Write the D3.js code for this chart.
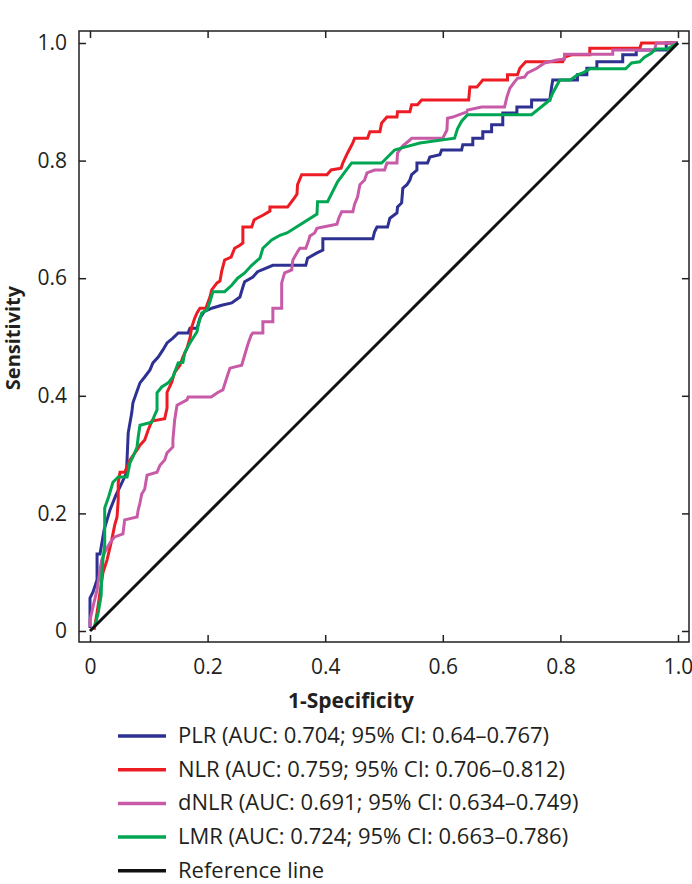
<!DOCTYPE html>
<html>
<head>
<meta charset="utf-8">
<script src="https://d3js.org/d3.v7.min.js"></script>
<style>
  body { margin: 0; background: #fff; }
  svg text { font-family: "Open Sans", "Noto Sans", sans-serif; fill: #231f20; }
  .tick line { stroke: #231f20; stroke-width: 1.5; }
</style>
</head>
<body>
<script>
// ROC points: [1-specificity, sensitivity]
var plr = [[0,0.005],[0,0.056],[0.005,0.066],[0.012,0.087],[0.012,0.131],[0.017,0.131],[0.024,0.172],[0.034,0.206],[0.044,0.231],[0.051,0.245],[0.062,0.269],[0.065,0.337],[0.071,0.371],[0.073,0.388],[0.079,0.405],[0.085,0.422],[0.093,0.432],[0.102,0.444],[0.107,0.456],[0.116,0.466],[0.124,0.478],[0.131,0.490],[0.141,0.498],[0.150,0.507],[0.167,0.507],[0.170,0.515],[0.182,0.515],[0.187,0.532],[0.194,0.543],[0.207,0.549],[0.224,0.554],[0.241,0.558],[0.255,0.568],[0.260,0.585],[0.263,0.594],[0.277,0.602],[0.285,0.611],[0.311,0.622],[0.367,0.622],[0.370,0.634],[0.386,0.643],[0.396,0.648],[0.396,0.667],[0.481,0.667],[0.484,0.679],[0.488,0.687],[0.506,0.687],[0.510,0.702],[0.522,0.711],[0.523,0.721],[0.530,0.728],[0.532,0.753],[0.539,0.759],[0.544,0.767],[0.547,0.776],[0.556,0.784],[0.556,0.796],[0.574,0.796],[0.578,0.806],[0.595,0.810],[0.598,0.818],[0.632,0.818],[0.634,0.827],[0.651,0.827],[0.651,0.838],[0.668,0.838],[0.668,0.849],[0.683,0.849],[0.683,0.861],[0.702,0.861],[0.702,0.881],[0.726,0.881],[0.726,0.891],[0.751,0.891],[0.751,0.903],[0.782,0.903],[0.785,0.925],[0.787,0.937],[0.829,0.937],[0.829,0.946],[0.845,0.946],[0.845,0.957],[0.862,0.957],[0.862,0.968],[0.906,0.968],[0.906,0.980],[0.929,0.980],[0.929,0.988],[0.980,0.988],[0.980,1],[1,1]];

var nlr = [[0.007,0.002],[0.012,0.031],[0.017,0.065],[0.022,0.099],[0.029,0.121],[0.037,0.155],[0.042,0.180],[0.046,0.194],[0.048,0.223],[0.048,0.252],[0.051,0.270],[0.059,0.270],[0.063,0.279],[0.068,0.291],[0.080,0.308],[0.085,0.316],[0.093,0.325],[0.099,0.342],[0.105,0.357],[0.127,0.361],[0.131,0.379],[0.131,0.406],[0.139,0.423],[0.144,0.440],[0.153,0.452],[0.158,0.466],[0.165,0.481],[0.170,0.498],[0.173,0.517],[0.178,0.532],[0.182,0.541],[0.187,0.549],[0.197,0.549],[0.204,0.568],[0.207,0.580],[0.216,0.592],[0.221,0.595],[0.224,0.612],[0.229,0.631],[0.240,0.636],[0.246,0.651],[0.255,0.656],[0.260,0.660],[0.260,0.687],[0.275,0.687],[0.279,0.699],[0.284,0.702],[0.294,0.707],[0.306,0.714],[0.306,0.721],[0.336,0.721],[0.345,0.733],[0.352,0.743],[0.353,0.759],[0.360,0.776],[0.403,0.776],[0.410,0.784],[0.427,0.787],[0.430,0.796],[0.438,0.813],[0.447,0.830],[0.450,0.838],[0.472,0.838],[0.476,0.849],[0.493,0.849],[0.496,0.864],[0.505,0.874],[0.522,0.874],[0.523,0.883],[0.544,0.883],[0.547,0.895],[0.557,0.895],[0.564,0.903],[0.644,0.903],[0.646,0.925],[0.658,0.925],[0.668,0.937],[0.710,0.937],[0.710,0.946],[0.727,0.946],[0.731,0.957],[0.741,0.968],[0.804,0.968],[0.807,0.976],[0.819,0.980],[0.850,0.980],[0.850,0.991],[0.935,0.991],[0.938,1],[1,1]];

var dnlr = [[0,0.007],[0,0.019],[0.005,0.041],[0.012,0.070],[0.017,0.104],[0.020,0.121],[0.025,0.134],[0.034,0.150],[0.042,0.160],[0.056,0.165],[0.059,0.189],[0.080,0.194],[0.082,0.206],[0.085,0.218],[0.088,0.233],[0.093,0.241],[0.097,0.265],[0.114,0.270],[0.119,0.282],[0.127,0.291],[0.131,0.303],[0.141,0.313],[0.141,0.325],[0.144,0.359],[0.148,0.384],[0.165,0.393],[0.167,0.398],[0.206,0.398],[0.218,0.406],[0.226,0.410],[0.233,0.432],[0.238,0.447],[0.258,0.452],[0.263,0.469],[0.268,0.486],[0.274,0.503],[0.277,0.507],[0.294,0.507],[0.294,0.526],[0.311,0.526],[0.311,0.549],[0.326,0.549],[0.326,0.592],[0.331,0.609],[0.343,0.614],[0.345,0.631],[0.353,0.645],[0.357,0.651],[0.367,0.651],[0.372,0.665],[0.374,0.672],[0.382,0.677],[0.386,0.685],[0.396,0.687],[0.420,0.692],[0.423,0.702],[0.428,0.713],[0.447,0.713],[0.450,0.726],[0.455,0.738],[0.459,0.759],[0.467,0.767],[0.471,0.779],[0.484,0.784],[0.501,0.784],[0.505,0.796],[0.522,0.796],[0.523,0.813],[0.532,0.825],[0.544,0.835],[0.547,0.838],[0.600,0.838],[0.607,0.852],[0.608,0.872],[0.617,0.874],[0.641,0.883],[0.642,0.886],[0.666,0.891],[0.705,0.891],[0.709,0.908],[0.714,0.923],[0.722,0.934],[0.727,0.940],[0.739,0.942],[0.744,0.949],[0.760,0.957],[0.773,0.966],[0.794,0.971],[0.807,0.973],[0.807,0.981],[0.889,0.981],[0.889,0.988],[0.960,0.988],[0.963,1],[1,1]];

var lmr = [[0.008,0.007],[0.014,0.031],[0.019,0.061],[0.020,0.095],[0.022,0.121],[0.025,0.146],[0.025,0.209],[0.031,0.226],[0.034,0.236],[0.039,0.253],[0.048,0.262],[0.063,0.262],[0.068,0.286],[0.073,0.296],[0.080,0.313],[0.082,0.330],[0.085,0.350],[0.105,0.355],[0.110,0.367],[0.114,0.376],[0.114,0.405],[0.122,0.415],[0.133,0.422],[0.141,0.432],[0.150,0.456],[0.158,0.457],[0.161,0.473],[0.170,0.490],[0.175,0.498],[0.182,0.509],[0.184,0.520],[0.190,0.541],[0.199,0.546],[0.204,0.560],[0.209,0.577],[0.229,0.577],[0.241,0.588],[0.251,0.600],[0.263,0.609],[0.275,0.622],[0.289,0.634],[0.294,0.651],[0.309,0.665],[0.323,0.673],[0.335,0.677],[0.386,0.709],[0.387,0.730],[0.404,0.730],[0.421,0.764],[0.445,0.796],[0.496,0.796],[0.518,0.818],[0.535,0.823],[0.561,0.830],[0.620,0.838],[0.625,0.854],[0.632,0.867],[0.642,0.878],[0.751,0.878],[0.782,0.903],[0.787,0.915],[0.799,0.937],[0.817,0.937],[0.829,0.946],[0.838,0.949],[0.850,0.956],[0.911,0.956],[0.921,0.966],[0.935,0.968],[0.943,0.976],[0.955,0.983],[0.962,0.990],[0.982,0.990],[1,1]];

var refLine = [[0,0],[1,1]];

var seriesNames = ["PLR", "NLR", "dNLR", "LMR", "Reference line"];
var legendLabels = [
  "PLR (AUC: 0.704; 95% CI: 0.64\u20130.767)",
  "NLR (AUC: 0.759; 95% CI: 0.706\u20130.812)",
  "dNLR (AUC: 0.691; 95% CI: 0.634\u20130.749)",
  "LMR (AUC: 0.724; 95% CI: 0.663\u20130.786)",
  "Reference line"
];
var tickValues = [0, 0.2, 0.4, 0.6, 0.8, 1.0];
var tickLabels = ["0", "0.2", "0.4", "0.6", "0.8", "1.0"];

var colors = ["#2e3192", "#ed1c24", "#c75ba8", "#00a651", "#111111"];
var curves = [plr, nlr, dnlr, lmr, refLine];

var width = 692, height = 884;
var frame = {left: 79, right: 689, top: 31, bottom: 642};

var svg = d3.select("body").append("svg")
    .attr("width", width)
    .attr("height", height);

var x = d3.scaleLinear().domain([0, 1]).range([90, 678]);
var y = d3.scaleLinear().domain([0, 1]).range([631, 43]);

var fmt = function(d) { return tickLabels[tickValues.indexOf(d)]; };

// axes with inward ticks on all four sides
svg.append("g").attr("transform", "translate(" + frame.left + ",0)")
    .call(d3.axisLeft(y).tickValues(tickValues).tickFormat(fmt).tickSizeInner(-7).tickSizeOuter(0).tickPadding(12));
svg.append("g").attr("transform", "translate(0," + frame.bottom + ")")
    .call(d3.axisBottom(x).tickValues(tickValues).tickFormat(fmt).tickSizeInner(-7).tickSizeOuter(0).tickPadding(17));
svg.append("g").attr("transform", "translate(0," + frame.top + ")")
    .call(d3.axisTop(x).tickValues(tickValues).tickFormat("").tickSizeInner(-7).tickSizeOuter(0));
svg.append("g").attr("transform", "translate(" + frame.right + ",0)")
    .call(d3.axisRight(y).tickValues(tickValues).tickFormat("").tickSizeInner(-7).tickSizeOuter(0));

svg.selectAll(".domain").remove();
svg.selectAll(".tick text").attr("font-size", 21).attr("font-family", "Open Sans, sans-serif").attr("fill", "#231f20");

svg.append("rect")
    .attr("x", frame.left).attr("y", frame.top)
    .attr("width", frame.right - frame.left).attr("height", frame.bottom - frame.top)
    .attr("fill", "none").attr("stroke", "#231f20").attr("stroke-width", 1.5);

var line = d3.line().x(function(d) { return x(d[0]); }).y(function(d) { return y(d[1]); });

svg.selectAll("path.roc")
    .data(curves)
    .enter().append("path")
    .attr("class", "roc")
    .attr("d", line)
    .attr("fill", "none")
    .attr("stroke", function(d, i) { return colors[i]; })
    .attr("stroke-width", 3)
    .attr("stroke-linejoin", "miter");

// axis titles
svg.append("text")
    .attr("x", 351).attr("y", 708)
    .attr("text-anchor", "middle")
    .attr("font-size", 21).attr("font-weight", "bold")
    .text("1-Specificity");

svg.append("text")
    .attr("transform", "translate(20,338) rotate(-90)")
    .attr("text-anchor", "middle")
    .attr("font-size", 20).attr("font-weight", "bold")
    .text("Sensitivity");

// legend
var legend = svg.selectAll("g.legend")
    .data(legendLabels)
    .enter().append("g")
    .attr("class", "legend")
    .attr("transform", function(d, i) { return "translate(0," + (743 + i * 33.7) + ")"; });

legend.append("line")
    .attr("x1", 118).attr("x2", 166)
    .attr("y1", -7).attr("y2", -7)
    .attr("stroke", function(d, i) { return colors[i]; })
    .attr("stroke-width", 3.5);

legend.append("text")
    .attr("x", 178)
    .attr("font-size", 22)
    .text(function(d) { return d; });
</script>
</body>
</html>
